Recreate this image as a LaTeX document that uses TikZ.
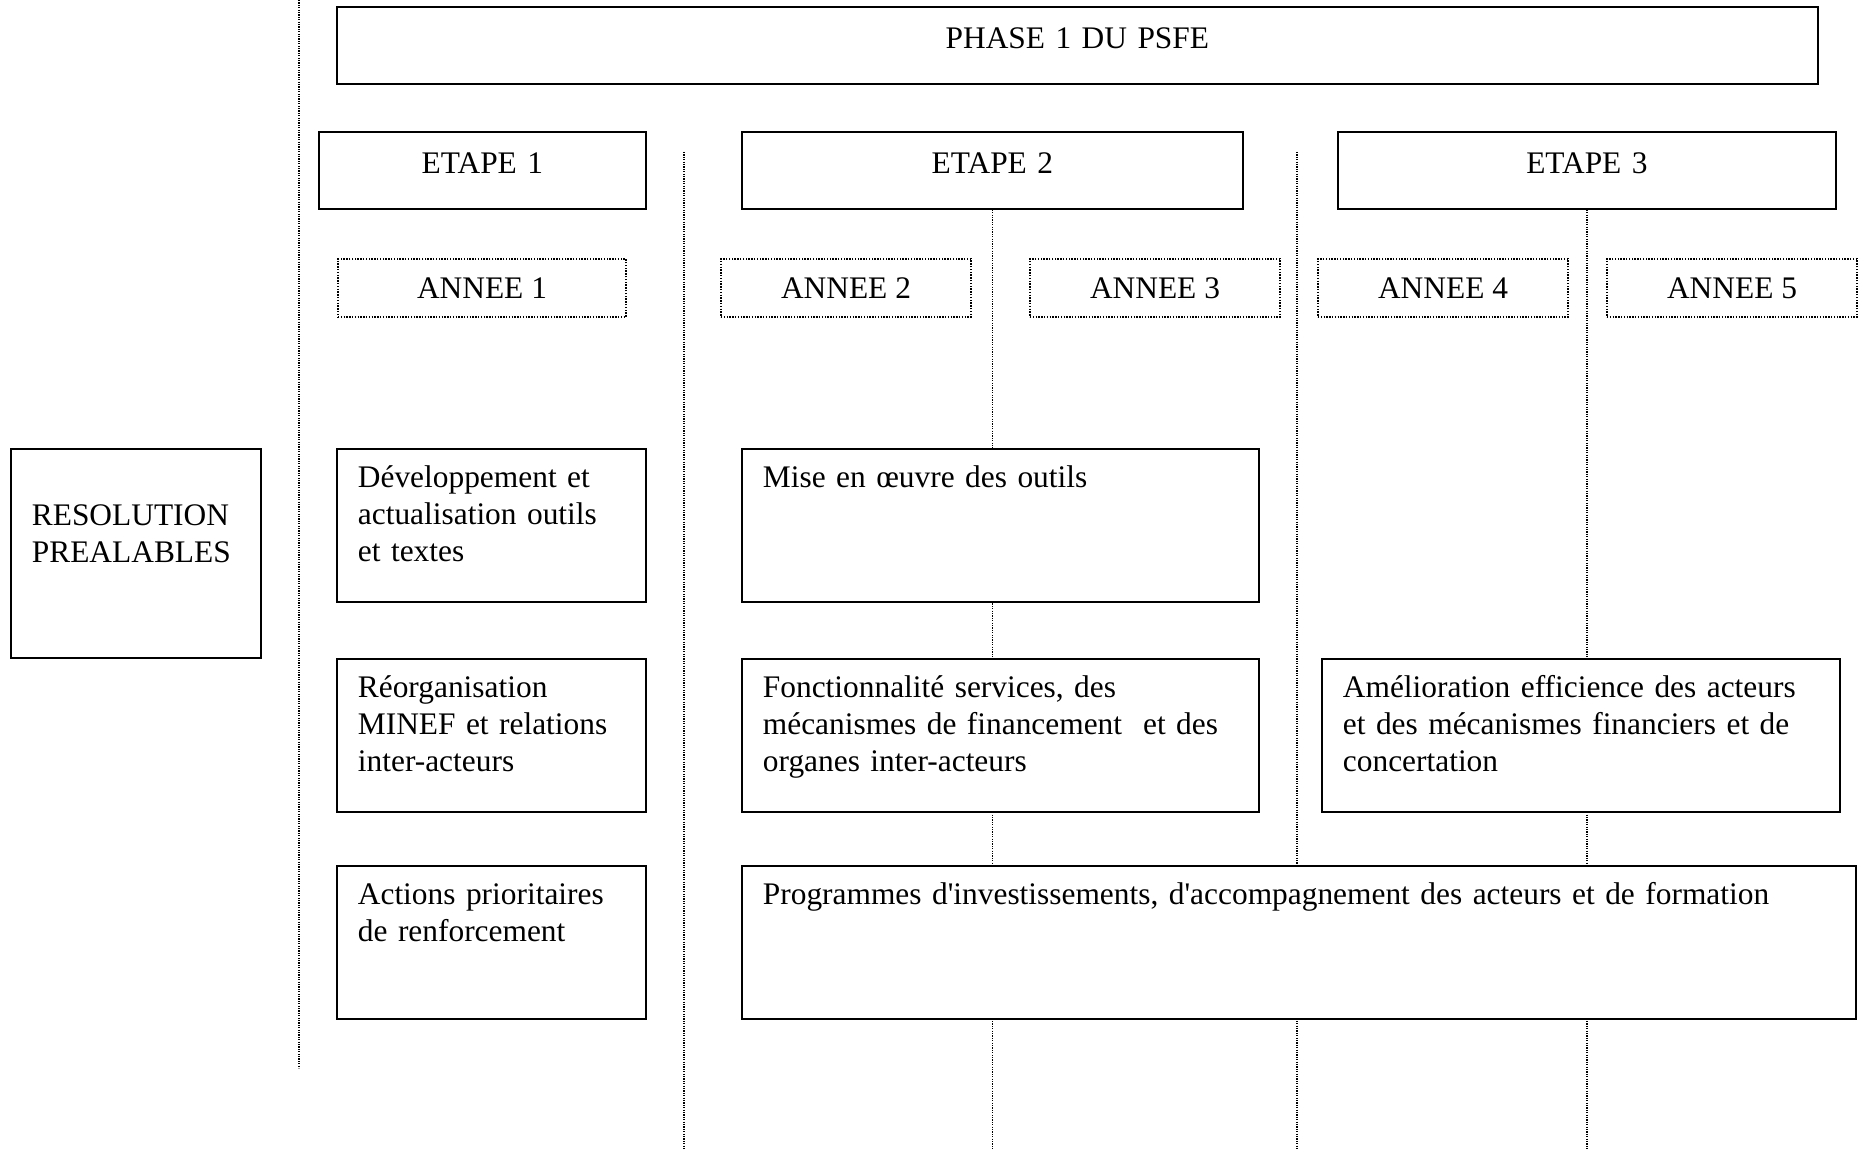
\documentclass[tikz,border=0pt]{standalone}
\usepackage{fontspec}
\setmainfont{Liberation Serif}
\usepackage{tikz}
\usetikzlibrary{calc,positioning}

\tikzset{
    cadre/.style={draw, fill=white, line width=0.9pt, inner xsep=10.5pt, inner ysep=0pt,
        anchor=north west, align=left},
    ligne/.style={cadre, text height=19.5pt, text depth=57pt},
    entete/.style={cadre, align=center, text height=20.75pt, text depth=17.75pt},
    annee/.style={draw, fill=white, line width=1pt, dash pattern=on 0.7pt off 0.7pt,
        inner sep=0pt, minimum height=29pt, minimum width=125pt, anchor=north west},
    sep/.style={line width=0.6pt, dash pattern=on 0.6pt off 0.6pt}
}

\begin{document}
\begin{tikzpicture}[x=0.5pt, y=-0.5pt, font=\fontsize{15.7}{18.4}\selectfont]
    \useasboundingbox (0, 0) rectangle (1861, 1150);
    \coordinate (bas) at (0, 1150);
    \draw[sep] (299, 0) -- (299, 1068);
    \draw[sep] (684, 152) -- (684, 1150);
    \draw[sep] (1297, 152) -- (1297, 1150);

    \node[entete, text width=719.5pt] (phase) at (336, 6) {PHASE 1 DU PSFE};
    \node[entete, text width=142.5pt] (etape1) at (318, 131) {ETAPE 1};
    \node[entete, text width=229.5pt] (etape2) at (741, 131) {ETAPE 2};
    \node[entete, text width=228pt] (etape3) at (1337, 131) {ETAPE 3};
    \draw[sep] (etape2.south) -- (etape2.south |- bas);
    \draw[sep] (etape3.south) -- (etape3.south |- bas);

    \node[annee, minimum width=144pt] (annee1) at (337, 258) {ANNEE 1};
    \node[annee] (annee2) at (720, 258) {ANNEE 2};
    \node[annee] (annee3) at (1029, 258) {ANNEE 3};
    \node[annee] (annee4) at (1317, 258) {ANNEE 4};
    \node[annee] (annee5) at (1606, 258) {ANNEE 5};

    \node[cadre, text width=104pt, text height=38.5pt, text depth=66pt] (resolution) at (10, 448)
        {RESOLUTION\\PREALABLES};

    \node[ligne, text width=133.5pt] (outils) at (336, 448)
        {Développement et\\actualisation outils\\et textes};
    \node[ligne, text width=237.5pt] (miseoeuvre) at (741, 448)
        {Mise en œuvre des outils};

    \node[ligne, text width=133.5pt] (reorg) at (336, 658)
        {Réorganisation\\MINEF et relations\\inter-acteurs};
    \node[ligne, text width=237.5pt] (fonction) at (741, 658)
        {Fonctionnalité services, des\\mécanismes de financement\ \ et des\\organes inter-acteurs};
    \node[ligne, text width=238pt] (efficience) at (1321, 658)
        {Amélioration efficience des acteurs\\et des mécanismes financiers et de\\concertation};

    \node[ligne, text width=133.5pt] (actions) at (336, 865)
        {Actions prioritaires\\de renforcement};
    \node[ligne, text width=536pt] (programmes) at (741, 865)
        {Programmes d\textquotesingle investissements, d\textquotesingle accompagnement des acteurs et de formation};
\end{tikzpicture}
\end{document}
